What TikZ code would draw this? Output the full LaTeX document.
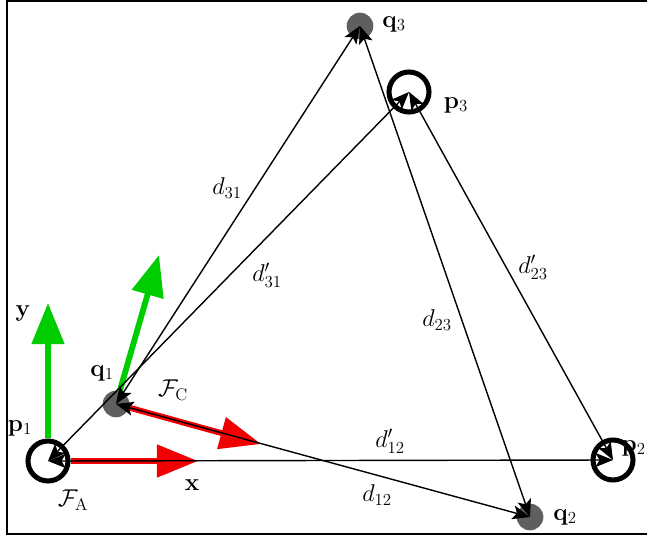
\documentclass[tikz,border=0pt]{standalone}
\usepackage{tikz}
\usetikzlibrary{arrows.meta}
\usepackage{amsmath}
\definecolor{axisRed}{RGB}{240,0,0}
\definecolor{axisGreen}{RGB}{0,205,0}
\definecolor{markGray}{RGB}{95,95,95}
\tikzset{
    every node/.append style={align=center},
    pring/.style={circle,draw=black,line width=4.3pt,minimum size=1.2cm,inner sep=0pt},
    qdot/.style={circle,fill=markGray,minimum size=0.8cm,inner sep=0pt},
    dist/.style={{Stealth[length=15pt,width=12pt,inset=3.5pt]}-{Stealth[length=15pt,width=12pt,inset=3.5pt]},line width=1.2pt},
    xaxis/.style={-{Triangle[length=35pt,width=27pt]},line width=5pt,draw=axisRed},
    yaxis/.style={-{Triangle[length=35pt,width=27pt]},line width=5pt,draw=axisGreen},
    lbl/.style={font=\fontsize{21}{24}\selectfont,inner sep=0pt}
}
\begin{document}
\begin{tikzpicture}[x=0.03cm,y=-0.03cm]
    \useasboundingbox (0,0) rectangle (647,540);
    \draw[line width=2pt] (7,1) rectangle (660,534);
    % points of the two triangles
    \node[pring] (p1) at ( 48,461) {};
    \node[pring] (p2) at (613,460) {};
    \node[pring] (p3) at (409, 92) {};
    \node[qdot]  (q1) at (116,404) {};
    \node[qdot]  (q2) at (530,517) {};
    \node[qdot]  (q3) at (360, 26) {};
    % frames A and C
    \coordinate (xA) at ( 198,461);
    \coordinate (yA) at (  48,303);
    \coordinate (xC) at ( 261,444);
    \coordinate (yC) at ( 159,255);
    \draw[xaxis] (p1) -- (xA);
    \draw[yaxis] (p1) -- (yA);
    \draw[xaxis] (q1) -- (xC);
    \draw[yaxis] (q1) -- (yC);
    % distances
    \draw[dist] (q1.center) -- (q3.center);
    \draw[dist] (p1.center) -- (p3.center);
    \draw[dist] (q3.center) -- (q2.center);
    \draw[dist] (p3.center) -- (p2.center);
    \draw[dist] (q1.center) -- (q2.center);
    \draw[dist] (p1.center) -- (p2.center);
    % labels
    \node[lbl] (lp1) at ( 20,428) {$\mathbf{p}_1$};
    \node[lbl,anchor=east] (lp2) at (646,448) {$\mathbf{p}_2$};
    \node[lbl] (lp3) at (456,105) {$\mathbf{p}_3$};
    \node[lbl] (lq1) at (102,373) {$\mathbf{q}_1$};
    \node[lbl] (lq2) at (565,517) {$\mathbf{q}_2$};
    \node[lbl] (lq3) at (394, 24) {$\mathbf{q}_3$};
    \node[lbl] (lx)  at (192,485) {$\mathbf{x}$};
    \node[lbl] (ly)  at ( 23,313) {$\mathbf{y}$};
    \node[lbl] (lFA) at ( 73,500) {$\mathcal{F}_\mathrm{A}$};
    \node[lbl] (lFC) at (173,390) {$\mathcal{F}_\mathrm{C}$};
    \node[lbl] (d31)  at (227,188) {$d_{31}$};
    \node[lbl] (d31p) at (267,275) {$d'_{31}$};
    \node[lbl] (d23)  at (437,320) {$d_{23}$};
    \node[lbl] (d23p) at (533,267) {$d'_{23}$};
    \node[lbl] (d12p) at (390,441) {$d'_{12}$};
    \node[lbl] (d12)  at (377,495) {$d_{12}$};
\end{tikzpicture}
\end{document}
